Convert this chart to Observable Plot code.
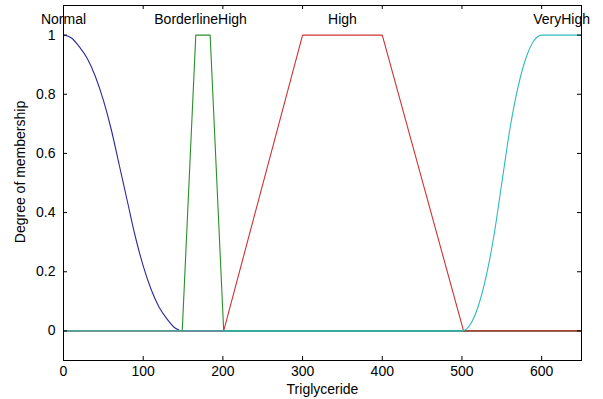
<!DOCTYPE html>
<html>
<head>
<meta charset="utf-8">
<script src="https://cdn.jsdelivr.net/npm/d3@7"></script>
<script src="https://cdn.jsdelivr.net/npm/@observablehq/plot@0.6"></script>
<style>
  html, body { margin: 0; padding: 0; background: #fff; }
</style>
</head>
<body>
<div id="chart"></div>
<script>
// Membership functions
const normalX = [0, 10, 20, 30, 40, 50, 60, 70, 80, 90, 100, 110, 120, 130, 140, 150, 650];
const normalY = [1, 0.99, 0.96, 0.92, 0.86, 0.78, 0.68, 0.56, 0.44, 0.32, 0.22, 0.14, 0.08, 0.04, 0.01, 0, 0];

const borderX = [0, 149, 166, 184, 201, 650];
const borderY = [0, 0, 1, 1, 0, 0];

const highX = [0, 201, 300, 400, 502, 650];
const highY = [0, 0, 1, 1, 0, 0];

const veryX = [0, 500, 510, 520, 530, 540, 550, 560, 570, 580, 590, 600, 650];
const veryY = [0, 0, 0.02, 0.08, 0.18, 0.32, 0.5, 0.68, 0.82, 0.92, 0.98, 1, 1];

const setNames = ["Normal", "BorderlineHigh", "High", "VeryHigh"];
const setLabelX = [0, 172, 350, 625];
const labelY = 1.053;

const xTicks = [0, 100, 200, 300, 400, 500, 600];
const yTicks = [0, 0.2, 0.4, 0.6, 0.8, 1];

const xTitle = "Triglyceride";
const yTitle = "Degree of membership";

const colors = ["#2a2a9e", "#2a8f2a", "#d03232", "#2fbaba"];

const W = 603, H = 399;
const mL = 63, mR = 22, mT = 5, mB = 39;
const plotH = H - mT - mB, plotW = W - mL - mR;
const tickLen = 4;

const toPts = (xs, ys) => xs.map((x, i) => ({x, y: ys[i]}));
const series = [toPts(normalX, normalY), toPts(borderX, borderY), toPts(highX, highY), toPts(veryX, veryY)];
const labels = setNames.map((t, i) => ({t, x: setLabelX[i], y: labelY}));

const chart = Plot.plot({
  width: W, height: H,
  marginLeft: mL, marginRight: mR, marginTop: mT, marginBottom: mB,
  style: {fontFamily: "'Liberation Sans', Arial, sans-serif", fontSize: "14px", background: "#fff", color: "#000"},
  x: {domain: [0, 650]},
  y: {domain: [-0.1, 1.1]},
  marks: [
    // lines
    ...series.map((d, i) => Plot.line(d, {x: "x", y: "y", stroke: colors[i], strokeWidth: 1.1, curve: i === 0 || i === 3 ? "monotone-x" : "linear"})),
    // frame
    Plot.frame({stroke: "#000", strokeWidth: 1}),
    // inward ticks
    Plot.tickX(xTicks, {x: d => d, stroke: "#000", insetTop: plotH - tickLen}),
    Plot.tickX(xTicks, {x: d => d, stroke: "#000", insetBottom: plotH - tickLen}),
    Plot.tickY(yTicks, {y: d => d, stroke: "#000", insetRight: plotW - tickLen}),
    Plot.tickY(yTicks, {y: d => d, stroke: "#000", insetLeft: plotW - tickLen}),
    // tick labels
    Plot.axisX({ticks: xTicks, tickSize: 0, tickPadding: 6, tickFormat: d => String(d), label: null, fontSize: 14}),
    Plot.axisY({ticks: yTicks, tickSize: 0, tickPadding: 8, tickFormat: d => String(d), label: null, fontSize: 14}),
    // set names
    Plot.text(labels, {x: "x", y: "y", text: "t", fontSize: 14, fill: "#000", lineAnchor: "middle"}),
    // titles
    Plot.text([xTitle], {frameAnchor: "bottom", dy: 29, fontSize: 14, fill: "#000", lineAnchor: "middle", textAnchor: "middle"}),
    Plot.text([yTitle], {frameAnchor: "left", dx: -43, dy: -11, rotate: -90, fontSize: 14, fill: "#000", lineAnchor: "middle", textAnchor: "middle"})
  ]
});
document.getElementById("chart").appendChild(chart);
</script>
</body>
</html>
